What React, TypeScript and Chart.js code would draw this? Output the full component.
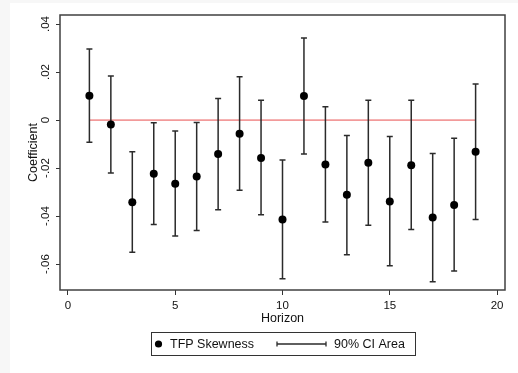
import React, { useEffect, useRef } from "react";
import { Chart, registerables } from "chart.js";
Chart.register(...registerables);

const horizons = [1, 2, 3, 4, 5, 6, 7, 8, 9, 10, 11, 12, 13, 14, 15, 16, 17, 18, 19];
const coefficients = [0.0101, -0.0019, -0.0342, -0.0224, -0.0265, -0.0235, -0.0142, -0.0057, -0.0158, -0.0414, 0.01, -0.0185, -0.0311, -0.0178, -0.0339, -0.0188, -0.0406, -0.0354, -0.0132];
const ciUpper = [0.0296, 0.0183, -0.0132, -0.0011, -0.0046, -0.001, 0.009, 0.018, 0.0082, -0.0167, 0.0342, 0.0055, -0.0064, 0.0082, -0.0069, 0.0082, -0.0139, -0.0076, 0.015];
const ciLower = [-0.0093, -0.0221, -0.0551, -0.0435, -0.0483, -0.046, -0.0374, -0.0293, -0.0395, -0.0661, -0.0142, -0.0425, -0.0561, -0.0438, -0.0607, -0.0456, -0.0674, -0.0629, -0.0414];
const xTicks = [0, 5, 10, 15, 20];
const yTicks = [0.04, 0.02, 0, -0.02, -0.04, -0.06];
const yTickLabels = [".04", ".02", "0", "-.02", "-.04", "-.06"];
const legendLabels = ["TFP Skewness", "90% CI Area"];

const FONT = "'Liberation Sans', Arial, sans-serif";

export default function App() {
  const ref = useRef<HTMLCanvasElement | null>(null);
  useEffect(() => {
    const canvas = ref.current!;
    const bgPlugin = {
      id: "bg",
      beforeDraw(chart: any) {
        const ctx = chart.ctx;
        ctx.save();
        ctx.fillStyle = "#f7f7f7";
        ctx.fillRect(0, 0, chart.width, chart.height);
        ctx.fillStyle = "#ffffff";
        ctx.fillRect(10, 3, chart.width - 10, chart.height - 3);
        ctx.restore();
      },
    };
    const errPlugin = {
      id: "errbars",
      beforeDatasetDraw(chart: any, args: any) {
        if (args.index !== 1) return;
        const ctx = chart.ctx;
        const xs = chart.scales.x;
        const ys = chart.scales.y;
        ctx.save();
        ctx.strokeStyle = "#2b2b2b";
        ctx.lineWidth = 1.5;
        horizons.forEach((h, i) => {
          const px = xs.getPixelForValue(h);
          const pu = ys.getPixelForValue(ciUpper[i]);
          const pl = ys.getPixelForValue(ciLower[i]);
          ctx.beginPath();
          ctx.moveTo(px, pu);
          ctx.lineTo(px, pl);
          ctx.moveTo(px - 3, pu);
          ctx.lineTo(px + 3, pu);
          ctx.moveTo(px - 3, pl);
          ctx.lineTo(px + 3, pl);
          ctx.stroke();
        });
        ctx.restore();
      },
    };
    const decoPlugin = {
      id: "deco",
      afterDraw(chart: any) {
        const ctx = chart.ctx;
        const a = chart.chartArea;
        const ys = chart.scales.y;
        ctx.save();
        // frame
        ctx.strokeStyle = "#404040";
        ctx.lineWidth = 1.5;
        ctx.strokeRect(a.left, a.top, a.right - a.left, a.bottom - a.top);
        // y tick labels (rotated)
        ctx.fillStyle = "#111";
        ctx.font = `11.5px ${FONT}`;
        ctx.textAlign = "center";
        ctx.textBaseline = "middle";
        yTicks.forEach((v, i) => {
          const py = ys.getPixelForValue(v);
          ctx.save();
          ctx.translate(46, py);
          ctx.rotate(-Math.PI / 2);
          ctx.fillText(yTickLabels[i], 0, 0);
          ctx.restore();
        });
        // legend
        ctx.strokeStyle = "#333";
        ctx.lineWidth = 1;
        ctx.strokeRect(151.5, 332.5, 264, 23);
        ctx.fillStyle = "#000";
        ctx.beginPath();
        ctx.arc(158.5, 344, 3.6, 0, Math.PI * 2);
        ctx.fill();
        ctx.font = `12.5px ${FONT}`;
        ctx.textAlign = "left";
        ctx.fillStyle = "#111";
        ctx.fillText(legendLabels[0], 170, 344.5);
        ctx.strokeStyle = "#2b2b2b";
        ctx.lineWidth = 1.3;
        ctx.beginPath();
        ctx.moveTo(277, 344);
        ctx.lineTo(326, 344);
        ctx.moveTo(277, 341.5);
        ctx.lineTo(277, 346.5);
        ctx.moveTo(326, 341.5);
        ctx.lineTo(326, 346.5);
        ctx.stroke();
        ctx.fillText(legendLabels[1], 334, 344.5);
        ctx.restore();
      },
    };
    const chart = new Chart(canvas, {
      type: "scatter",
      data: {
        datasets: [
          {
            type: "line",
            data: [
              { x: horizons[0], y: 0 },
              { x: horizons[horizons.length - 1], y: 0 },
            ],
            borderColor: "#f29a9a",
            borderWidth: 1.8,
            pointRadius: 0,
            order: 2,
          } as any,
          {
            data: horizons.map((h, i) => ({ x: h, y: coefficients[i] })),
            backgroundColor: "#000",
            borderColor: "#000",
            borderWidth: 0,
            pointRadius: 4,
            order: 1,
          },
        ],
      },
      options: {
        animation: false,
        responsive: false,
        devicePixelRatio: 1,
        layout: { padding: { top: 15, right: 13, left: 0, bottom: 0 } },
        plugins: { legend: { display: false }, tooltip: { enabled: false } },
        scales: {
          x: {
            type: "linear",
            min: -0.37,
            max: 20.37,
            afterBuildTicks: (s: any) => {
              s.ticks = xTicks.map((v) => ({ value: v }));
            },
            afterFit: (s: any) => {
              s.height = 83;
            },
            grid: { drawOnChartArea: false, drawTicks: true, tickLength: 5, color: "#333" },
            border: { display: false },
            ticks: { font: { family: FONT, size: 11.5 }, color: "#111", padding: 4, maxRotation: 0, autoSkip: false },
            title: { display: true, text: "Horizon", font: { family: FONT, size: 12.5 }, color: "#111", padding: { top: 0, bottom: 47 } },
          },
          y: {
            type: "linear",
            min: -0.0708,
            max: 0.04375,
            afterBuildTicks: (s: any) => {
              s.ticks = yTicks.map((v) => ({ value: v }));
            },
            afterFit: (s: any) => {
              s.width = 60;
            },
            grid: { drawOnChartArea: false, drawTicks: true, tickLength: 4, color: "#333" },
            border: { display: false },
            ticks: { display: false },
            title: { display: true, text: "Coefficient", font: { family: FONT, size: 12.5 }, color: "#111", padding: { top: 26, bottom: 0 } },
          },
        },
      } as any,
      plugins: [bgPlugin, errPlugin, decoPlugin],
    });
    return () => chart.destroy();
  }, []);
  return (
    <div style={{ position: "fixed", left: 0, top: 0, width: 518, height: 373 }}>
      <canvas ref={ref} width={518} height={373} style={{ display: "block", width: 518, height: 373 }} />
    </div>
  );
}
